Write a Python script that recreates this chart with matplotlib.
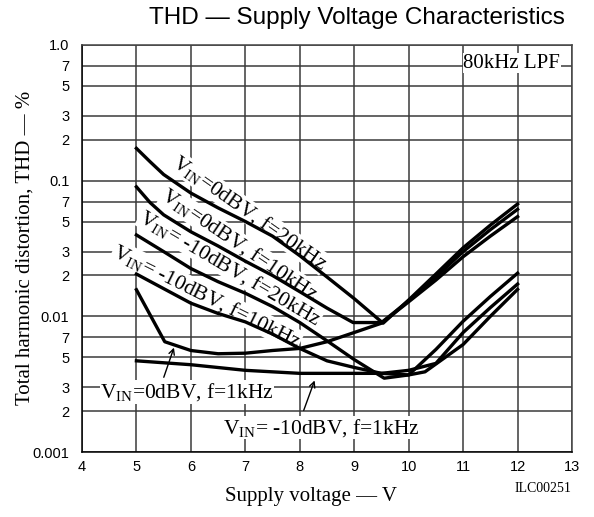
import matplotlib
matplotlib.use('Agg')
import matplotlib.pyplot as plt

plt.rcParams['mathtext.fontset'] = 'custom'
plt.rcParams['mathtext.rm'] = 'Liberation Serif'
plt.rcParams['mathtext.it'] = 'Liberation Serif:italic'

# THD (%), against supply voltage (V)
v_0db_20k = [5, 5.25, 5.5, 6, 6.5, 7, 7.5, 8, 8.5, 9, 9.53, 10, 10.5, 11, 11.5, 12]
thd_0db_20k = [0.173, 0.138, 0.111, 0.081, 0.063, 0.050, 0.039, 0.028, 0.0195, 0.0135, 0.0089,
               0.0132, 0.0205, 0.032, 0.047, 0.0673]

v_0db_10k = [5, 5.25, 5.5, 6, 6.5, 7, 7.5, 8, 8.5, 8.98, 9.5, 10, 10.5, 11, 11.5, 12]
thd_0db_10k = [0.090, 0.069, 0.056, 0.042, 0.033, 0.0255, 0.020, 0.0152, 0.0115, 0.009, 0.009,
               0.013, 0.0195, 0.030, 0.0435, 0.0615]

v_0db_1k = [5, 5.52, 6, 6.5, 7, 7.5, 8, 8.5, 9, 9.5, 10, 10.5, 11, 11.5, 12]
thd_0db_1k = [0.0157, 0.0065, 0.0056, 0.0053, 0.00535, 0.0056, 0.0058, 0.0065, 0.0076, 0.0089,
              0.0128, 0.0185, 0.0275, 0.039, 0.0543]

v_m10_20k = [5, 5.5, 6, 6.5, 7, 7.5, 8, 8.5, 9, 9.55, 10, 10.5, 11, 11.5, 12]
thd_m10_20k = [0.0398, 0.030, 0.0225, 0.018, 0.0148, 0.0118, 0.009, 0.0066, 0.0048, 0.0035,
               0.0037, 0.0057, 0.0092, 0.0140, 0.0208]

v_m10_10k = [5, 5.5, 6, 6.5, 7, 7.5, 8, 8.5, 9, 9.5, 10, 10.5, 11, 11.5, 12]
thd_m10_10k = [0.0205, 0.016, 0.0125, 0.0105, 0.0091, 0.0074, 0.0058, 0.0047, 0.0042, 0.0038,
               0.0040, 0.0045, 0.0076, 0.0116, 0.0173]

v_m10_1k = [5, 6, 7, 8, 9, 9.5, 10, 10.3, 11, 11.5, 12]
thd_m10_1k = [0.0047, 0.0044, 0.0040, 0.0038, 0.0038, 0.0038, 0.0037, 0.0039, 0.0062, 0.0100, 0.0158]

x_ticks = [4, 5, 6, 7, 8, 9, 10, 11, 12, 13]
y_major = [0.001, 0.01, 0.1, 1.0]
y_major_labels = ['0.001', '0.01', '0.1', '1.0']
y_minor = [d * m for d in [0.001, 0.01, 0.1] for m in [2, 3, 5, 7]]
y_minor_labels = ['2', '3', '5', '7'] * 3

serif = 'Liberation Serif'
sans = 'Liberation Sans'

fig = plt.figure(figsize=(5.94, 5.17), dpi=100)
ax = fig.add_axes([0.138, 0.1257, 0.825, 0.7873])

# curves
for xs, ys in [(v_0db_20k, thd_0db_20k), (v_0db_10k, thd_0db_10k), (v_0db_1k, thd_0db_1k),
               (v_m10_20k, thd_m10_20k), (v_m10_10k, thd_m10_10k), (v_m10_1k, thd_m10_1k)]:
    ax.plot(xs, ys, color='black', lw=2.4, solid_joinstyle='round', zorder=3)

ax.set_yscale('log')
ax.set_xlim(4, 13)
ax.set_ylim(0.001, 1.0)
ax.set_xticks(x_ticks)
ax.set_xticklabels([str(t) for t in x_ticks], fontfamily=sans, fontsize=10.5)
ax.set_yticks(y_major)
ax.set_yticklabels(y_major_labels, fontfamily=sans, fontsize=10.5)
ax.set_yticks(y_minor, minor=True)
ax.set_yticklabels(y_minor_labels, minor=True, fontfamily=sans, fontsize=10.5)
ax.tick_params(axis='both', which='both', length=0)
ax.tick_params(axis='y', which='both', pad=9)
ax.tick_params(axis='x', pad=6)
ax.grid(True, which='both', color='#3a3a3a', lw=1.1)
for s in ax.spines.values():
    s.set_color('#444444')
    s.set_linewidth(1.1)
ax.spines['left'].set_color('black')
ax.spines['bottom'].set_color('black')

box = dict(facecolor='white', edgecolor='none', pad=0.5)

# rotated curve labels
ax.text(7.08, 0.0578, r'V$_{\rm IN}$=0dBV, f=20kHz', rotation=-35, ha='center', va='center',
        fontfamily=serif, fontsize=15.5, bbox=box, zorder=2)
ax.text(6.90, 0.0336, r'V$_{\rm IN}$=0dBV, f=10kHz', rotation=-34, ha='center', va='center',
        fontfamily=serif, fontsize=15.5, bbox=box, zorder=2)
ax.text(6.72, 0.0228, r'V$_{\rm IN}$= -10dBV, f=20kHz', rotation=-30.5, ha='center', va='center',
        fontfamily=serif, fontsize=15.5, bbox=box, zorder=2)
ax.text(6.29, 0.0141, r'V$_{\rm IN}$= -10dBV, f=10kHz', rotation=-26.5, ha='center', va='center',
        fontfamily=serif, fontsize=15.5, bbox=box, zorder=2)

# 1kHz labels with arrows
ax.text(5.93, 0.00277, r'V$_{\rm IN}$=0dBV, f=1kHz', ha='center', va='center',
        fontfamily=serif, fontsize=15.5, bbox=box, zorder=2)
ax.annotate('', xy=(5.706, 0.00615), xytext=(5.486, 0.0034),
            arrowprops=dict(arrowstyle='->', color='black', lw=1.0), zorder=4)
ax.text(8.40, 0.00151, r'V$_{\rm IN}$= -10dBV, f=1kHz', ha='center', va='center',
        fontfamily=serif, fontsize=15.5, bbox=box, zorder=2)
ax.annotate('', xy=(8.29, 0.00352), xytext=(8.055, 0.00194),
            arrowprops=dict(arrowstyle='->', color='black', lw=1.0), zorder=4)

ax.text(11.89, 0.736, '80kHz LPF', ha='center', va='center', fontfamily=serif, fontsize=15,
        bbox=dict(facecolor='white', edgecolor='none', pad=0.5), zorder=2)

# titles and axis labels
fig.text(357 / 594, 1 - 18 / 517, 'THD \u2014 Supply Voltage Characteristics', ha='center', va='center',
         fontfamily=sans, fontsize=17.5)
fig.text(25 / 594, 1 - 248 / 517, 'Total harmonic distortion, THD \u2014 %', rotation=90,
         ha='center', va='center', fontfamily=serif, fontsize=15)
fig.text(311 / 594, 1 - 497 / 517, 'Supply voltage \u2014 V', ha='center', va='center',
         fontfamily=serif, fontsize=15)
fig.text(543 / 594, 1 - 489 / 517, 'ILC00251', ha='center', va='center', fontfamily=serif, fontsize=10)

plt.savefig('out.png', dpi=100)
